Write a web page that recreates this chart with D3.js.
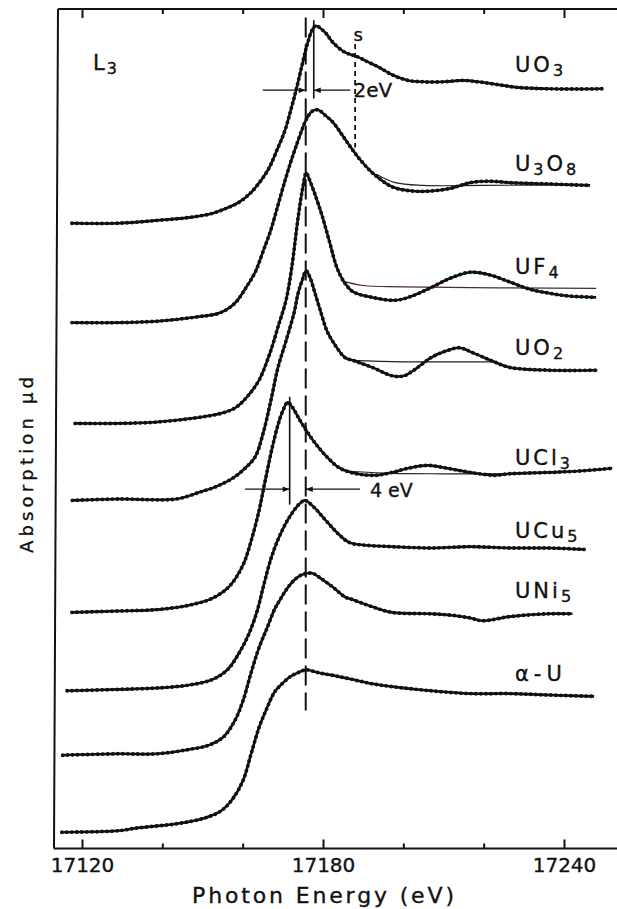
<!DOCTYPE html>
<html>
<head>
<meta charset="utf-8">
<script src="https://cdn.jsdelivr.net/npm/d3@7"></script>
<style>
  html, body { margin: 0; padding: 0; background: #fff; }
  svg { display: block; }
  text { font-family: "DejaVu Sans", sans-serif; fill: #111; stroke: #111; stroke-width: 0.35px; }
</style>
</head>
<body>
<svg id="chart" width="617" height="909"></svg>
<script>
// U L3-edge XANES spectra; energy in eV, absorption normalised to the edge jump
const UO3 = [[17117.5,0.00],[17129,0.00],[17138.7,0.02],[17146.4,0.04],[17152.4,0.07],[17156.2,0.11],[17159.1,0.15],[17162.1,0.22],[17166.3,0.38],[17168.5,0.52],[17170.5,0.66],[17172,0.81],[17173.3,0.95],[17174.8,1.13],[17176,1.27],[17177.3,1.38],[17178.2,1.41],[17180.6,1.36],[17182.5,1.29],[17185.5,1.22],[17188.5,1.19],[17191.3,1.15],[17194.2,1.11],[17197.2,1.06],[17201.2,1.02],[17205,1.01],[17209.9,1.01],[17214.8,1.02],[17218.6,1.01],[17223.6,0.99],[17228.4,0.97],[17236.3,0.96],[17249.7,0.96]];
const U3O8 = [[17117.5,0.00],[17129,0.00],[17138.7,0.01],[17148.4,0.04],[17154.4,0.07],[17158.1,0.14],[17160.6,0.24],[17163.1,0.36],[17165.1,0.51],[17167,0.66],[17168.8,0.84],[17170.5,1.01],[17172,1.15],[17173.3,1.26],[17174.8,1.38],[17176,1.46],[17177.3,1.51],[17178.7,1.52],[17180.6,1.48],[17182.5,1.43],[17185.5,1.31],[17188.5,1.19],[17192.3,1.07],[17197.2,0.97],[17202.2,0.94],[17206.9,0.94],[17211.9,0.96],[17216.7,1.00],[17221.6,1.01],[17226.5,1.00],[17236.3,0.99],[17246.5,0.98]];
const UF4 = [[17118.3,0.00],[17129,0.00],[17138.7,0.01],[17148.4,0.04],[17154.4,0.07],[17158.1,0.11],[17161.1,0.19],[17164.1,0.31],[17167,0.52],[17168.8,0.69],[17170.8,0.88],[17172.2,1.11],[17173.8,1.47],[17175,1.69],[17175.8,1.79],[17176.5,1.75],[17177.7,1.66],[17179.6,1.50],[17181.5,1.31],[17183.5,1.11],[17185.5,1.00],[17187.5,0.94],[17192.3,0.90],[17198.2,0.88],[17202.2,0.91],[17206.9,0.97],[17211.9,1.04],[17216.7,1.08],[17221.6,1.06],[17226.5,1.01],[17231.3,0.96],[17236.3,0.93],[17241.2,0.91],[17248,0.90]];
const UO2 = [[17117.6,0.00],[17129,0.01],[17143.5,0.01],[17149.4,0.06],[17153.5,0.10],[17157.6,0.16],[17160.6,0.23],[17163.1,0.31],[17165.1,0.48],[17167,0.71],[17168.8,0.95],[17170.8,1.14],[17172.8,1.34],[17173.8,1.48],[17174.8,1.57],[17175.8,1.64],[17176.8,1.59],[17177.8,1.50],[17179.3,1.36],[17181,1.21],[17183,1.11],[17185.5,1.02],[17187.5,1.00],[17192.3,0.95],[17197.2,0.89],[17200.2,0.89],[17203.1,0.94],[17206.9,1.02],[17210.9,1.07],[17213.9,1.09],[17217.7,1.05],[17222.6,0.99],[17226.5,0.95],[17236.3,0.93],[17248.3,0.93]];
const UCl3 = [[17117.5,0.00],[17129,0.01],[17138.7,0.02],[17146.4,0.05],[17152.4,0.10],[17156.8,0.19],[17160.1,0.34],[17162.1,0.51],[17164.1,0.73],[17165.6,0.94],[17167.3,1.17],[17168.8,1.34],[17170,1.44],[17171.2,1.50],[17172.5,1.46],[17174.3,1.37],[17177.5,1.23],[17181,1.11],[17184.2,1.03],[17188.4,0.99],[17193.3,0.98],[17197.2,1.00],[17201.2,1.03],[17206,1.05],[17210.9,1.03],[17216.7,1.00],[17222.6,0.98],[17226.5,0.99],[17236.3,1.00],[17244,1.01],[17252,1.03]];
const UCu5 = [[17116.3,0.00],[17129,0.01],[17138.7,0.02],[17146.4,0.04],[17152.4,0.08],[17156.2,0.15],[17159.1,0.27],[17161.6,0.41],[17163.6,0.57],[17165.2,0.75],[17167,0.94],[17168.8,1.08],[17170.8,1.20],[17172.8,1.29],[17174.3,1.34],[17175.5,1.36],[17177.8,1.31],[17180.6,1.22],[17183.5,1.13],[17186.5,1.06],[17190.5,1.04],[17197.2,1.03],[17206.9,1.02],[17216.7,1.03],[17226.5,1.02],[17236.3,1.02],[17245,1.01]];
const UNi5 = [[17115.2,0.00],[17128.9,0.01],[17138.7,0.01],[17146.4,0.04],[17151.4,0.07],[17155.2,0.13],[17158.1,0.25],[17160.1,0.39],[17162.1,0.59],[17164.1,0.77],[17166.1,0.91],[17167.9,1.04],[17169.3,1.11],[17170.8,1.18],[17172.8,1.25],[17174.8,1.29],[17177.3,1.30],[17179.6,1.26],[17182.5,1.20],[17185.5,1.13],[17187.5,1.11],[17192.3,1.06],[17197.2,1.02],[17206.9,1.01],[17211.9,1.00],[17216.7,0.98],[17219.6,0.96],[17226.5,0.99],[17236.3,1.01],[17242.1,1.01]];
const alphaU = [[17115,0.00],[17128.9,0.01],[17133.7,0.03],[17143.5,0.06],[17150.4,0.10],[17154.5,0.15],[17157.3,0.23],[17160.1,0.37],[17162.1,0.56],[17164.1,0.75],[17166.1,0.89],[17167.9,1.00],[17169.8,1.06],[17171.8,1.11],[17173.8,1.14],[17175.8,1.16],[17178.7,1.14],[17182.5,1.12],[17187.5,1.09],[17192.3,1.06],[17197.2,1.04],[17206.9,1.01],[17216.7,0.99],[17226.5,0.99],[17236.3,0.98],[17247.5,0.97]];

// smooth post-edge reference lines
const baseU3O8 = [[17193.3,1.06],[17198,1.00],[17205,0.98],[17220,0.98],[17246.5,0.985]];
const baseUF4  = [[17184.5,1.02],[17190,0.985],[17200,0.975],[17248,0.965]];
const baseUO2  = [[17187,1.00],[17200,0.99],[17222.6,0.99]];
const baseUCl3 = [[17186,1.01],[17195,0.995],[17210,0.99],[17226.5,0.99]];

// stacking offsets (edge-jump units) and label parts: [text, isSubscript]
const spectra = [UO3, U3O8, UF4, UO2, UCl3, UCu5, UNi5, alphaU];
const offsets = [4.47, 3.76, 3.04, 2.49, 1.69, 1.13, 0.67, 0.12];
const labelLevels = [1.08, 1.08, 1.07, 1.04, 1.05, 1.09, 1.12, 1.08];
const labelParts = [
  [["UO",0],["3",1]],
  [["U",0],["3",1],["O",0],["8",1]],
  [["UF",0],["4",1]],
  [["UO",0],["2",1]],
  [["UCl",0],["3",1]],
  [["UCu",0],["5",1]],
  [["UNi",0],["5",1]],
  [["α-U",0]]
];
const baselines = [[baseU3O8,1],[baseUF4,2],[baseUO2,3],[baseUCl3,4]];

// energy axis
const majorTicks = [17120, 17180, 17240];
const minorTicks = [17140, 17160, 17200, 17220];

// energy markers: white-line reference and shifts stated on the plot
const refEnergy = 17175.7;
const shiftUO3 = 2;    // eV
const shiftUCl3 = -4;  // eV
const shoulderS = 17188;

const W = 617, H = 909;
const svg = d3.select("#chart");
svg.append("rect").attr("width", W).attr("height", H).attr("fill", "#fff");

const x = d3.scaleLinear().domain([17120, 17240]).range([82, 564]);
const y = d3.scaleLinear().domain([0, 6]).range([849, 9]);

const ink = "#111";

// arrowhead marker
svg.append("defs").append("marker")
  .attr("id", "ah").attr("viewBox", "0 0 10 10")
  .attr("refX", 10).attr("refY", 5)
  .attr("markerWidth", 8).attr("markerHeight", 7)
  .attr("markerUnits", "userSpaceOnUse").attr("orient", "auto")
  .append("path").attr("d", "M0,1 L10,5 L0,9 Z").attr("fill", ink);

// frame
const frame = svg.append("g").attr("stroke", ink).attr("stroke-width", 2).attr("fill", "none");
frame.append("path").attr("d", `M58,9 H${W}`);
frame.append("path").attr("d", `M54,848.5 H${W}`);
frame.append("path").attr("d", "M58,9 L54,848.5");

function styleAxis(g) {
  g.select(".domain").remove();
  g.selectAll(".tick line").attr("stroke", ink).attr("stroke-width", 2);
  g.selectAll(".tick text").attr("font-size", 20).attr("font-family", "DejaVu Sans, sans-serif").attr("fill", ink);
}
svg.append("g").attr("transform", "translate(0,848.5)")
  .call(d3.axisBottom(x).tickValues(majorTicks).tickSize(-9).tickPadding(9).tickFormat(d3.format("d")))
  .call(styleAxis);
svg.append("g").attr("transform", "translate(0,848.5)")
  .call(d3.axisBottom(x).tickValues(minorTicks).tickSize(-5).tickFormat(""))
  .call(styleAxis);
svg.append("g").attr("transform", "translate(0,9)")
  .call(d3.axisTop(x).tickValues(majorTicks).tickSize(-9).tickFormat(""))
  .call(styleAxis);
svg.append("g").attr("transform", "translate(0,9)")
  .call(d3.axisTop(x).tickValues(minorTicks).tickSize(-5).tickFormat(""))
  .call(styleAxis);

// axis titles
svg.append("text")
  .attr("x", x(17180)).attr("y", 903)
  .attr("text-anchor", "middle").attr("font-size", 22)
  .attr("textLength", 262).attr("lengthAdjust", "spacing")
  .text("Photon Energy (eV)");
svg.append("text")
  .attr("transform", "translate(33,465) rotate(-90)")
  .attr("text-anchor", "middle").attr("font-size", 18)
  .attr("textLength", 176).attr("lengthAdjust", "spacing")
  .text("Absorption µd");

// reference (post-edge) lines
baselines.forEach(([pts, i]) => {
  const off = offsets[i];
  svg.append("path")
    .attr("d", d3.line().x(d => x(d[0])).y(d => y(d[1] + off)).curve(d3.curveCatmullRom.alpha(0.5))(pts))
    .attr("fill", "none").attr("stroke", i === 2 ? "#4a2e22" : "#222").attr("stroke-width", 1.2);
});

// spectra: solid trace plus beaded overlay for the measured points
spectra.forEach((pts, i) => {
  const off = offsets[i];
  const d = d3.line().x(p => x(p[0])).y(p => y(p[1] + off)).curve(d3.curveCatmullRom.alpha(0.5))(pts);
  svg.append("path").attr("d", d).attr("fill", "none").attr("stroke", ink)
    .attr("stroke-width", 2.6).attr("stroke-linejoin", "round");
  svg.append("path").attr("d", d).attr("fill", "none").attr("stroke", ink)
    .attr("stroke-width", 3.9).attr("stroke-linecap", "round")
    .attr("stroke-dasharray", "0,5");
});

// compound labels
const labelEnergy = 17227.8;
labelParts.forEach((parts, i) => {
  const t = svg.append("text")
    .attr("x", x(labelEnergy)).attr("y", y(offsets[i] + labelLevels[i]))
    .attr("font-size", 21).attr("letter-spacing", i === 7 ? 5 : 3);
  let sub = false;
  parts.forEach(([s, isSub]) => {
    const ts = t.append("tspan").text(s);
    if (isSub && !sub) { ts.attr("dy", 4).attr("font-size", 16); sub = true; }
    else if (isSub) { ts.attr("font-size", 16); }
    else if (!isSub && sub) { ts.attr("dy", -4); sub = false; }
  });
});

// edge label
const l3 = svg.append("text").attr("x", 93).attr("y", 70).attr("font-size", 21);
l3.append("tspan").text("L");
l3.append("tspan").attr("dy", 4).attr("font-size", 16).attr("dx", 2).text("3");

// vertical markers
svg.append("line")
  .attr("x1", x(refEnergy)).attr("x2", x(refEnergy))
  .attr("y1", y(5.94)).attr("y2", y(0.99))
  .attr("stroke", ink).attr("stroke-width", 2).attr("stroke-dasharray", "20,7");
svg.append("line")
  .attr("x1", x(refEnergy + shiftUO3)).attr("x2", x(refEnergy + shiftUO3))
  .attr("y1", y(5.92)).attr("y2", y(5.36))
  .attr("stroke", ink).attr("stroke-width", 1.6);
svg.append("line")
  .attr("x1", x(refEnergy + shiftUCl3)).attr("x2", x(refEnergy + shiftUCl3))
  .attr("y1", y(3.23)).attr("y2", y(2.46))
  .attr("stroke", ink).attr("stroke-width", 1.6);
svg.append("line")
  .attr("x1", x(shoulderS)).attr("x2", x(shoulderS))
  .attr("y1", y(5.75)).attr("y2", y(5.01))
  .attr("stroke", ink).attr("stroke-width", 1.8).attr("stroke-dasharray", "5,4");
svg.append("text").attr("x", x(shoulderS) + 3).attr("y", y(5.77))
  .attr("text-anchor", "middle").attr("font-size", 18).text("s");

// shift arrows
function arrow(e0, e1, level) {
  svg.append("line")
    .attr("x1", x(e0)).attr("x2", x(e1)).attr("y1", y(level)).attr("y2", y(level))
    .attr("stroke", ink).attr("stroke-width", 1.3).attr("marker-end", "url(#ah)");
}
arrow(17165, refEnergy, 5.42);
arrow(17186.8, refEnergy + shiftUO3, 5.42);
svg.append("text").attr("x", x(17187.6)).attr("y", y(5.37)).attr("font-size", 20)
  .text(`${shiftUO3}eV`);

arrow(17160.6, refEnergy + shiftUCl3, 2.57);
arrow(17189.2, refEnergy, 2.57);
svg.append("text").attr("x", x(17191.7)).attr("y", y(2.514)).attr("font-size", 19)
  .text(`${Math.abs(shiftUCl3)} eV`);
</script>
</body>
</html>
